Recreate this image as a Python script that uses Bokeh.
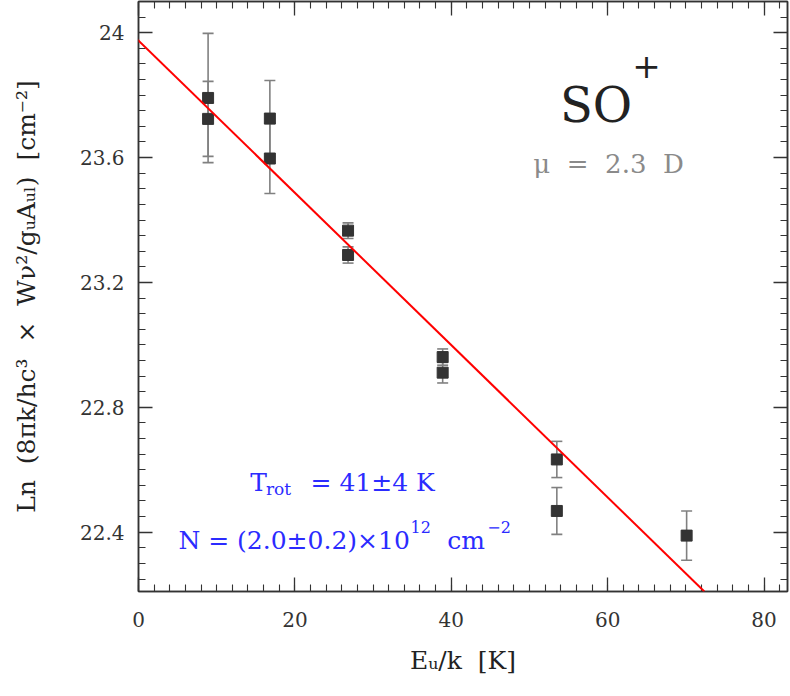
from bokeh.plotting import figure
from bokeh.models import (ColumnDataSource, Whisker, TeeHead, Label, LinearAxis,
                          Range1d, FixedTicker, PrintfTickFormatter,
                          CustomJSTickFormatter, Slope)
from bokeh.embed import file_html
from bokeh.resources import INLINE

# Rotational diagram of SO+: upper-level energy (K), ln of the column
# density ratio and its 1-sigma uncertainty
e_up = [8.9, 8.9, 16.8, 16.8, 26.8, 26.8, 38.9, 38.9, 53.5, 53.5, 70.1]
ln_n = [23.791, 23.724, 23.725, 23.597, 23.366, 23.288,
        22.961, 22.911, 22.633, 22.468, 22.389]
ln_err = [0.207, 0.120, 0.122, 0.112, 0.025, 0.026,
          0.026, 0.033, 0.058, 0.075, 0.079]

# Least-squares fit: slope is -1/T_rot
t_rot = 41.0
fit_intercept = 23.975

x_major = [0, 20, 40, 60, 80]
x_minor = list(range(0, 84, 2))
y_major = [22.4, 22.8, 23.2, 23.6, 24.0]
y_minor = [round(22.2 + 0.05 * i, 2) for i in range(39)]

SERIF = "DejaVu Serif"
AXIS_COL = "#333333"
NB = "\u00a0"

src = ColumnDataSource(data=dict(
    x=e_up, y=ln_n,
    upper=[v + e for v, e in zip(ln_n, ln_err)],
    lower=[v - e for v, e in zip(ln_n, ln_err)],
))

p = figure(width=790, height=696, output_backend="svg", toolbar_location=None,
           x_range=Range1d(0, 83), y_range=Range1d(22.21, 24.10),
           min_border_left=138, min_border_right=3, min_border_top=1,
           min_border_bottom=105)
p.grid.visible = False
p.background_fill_color = "white"
p.border_fill_color = "white"
p.outline_line_color = AXIS_COL
p.outline_line_width = 1.5


def style_axis(ax, ticks, minors, labelled):
    ax.ticker = FixedTicker(ticks=ticks, minor_ticks=minors)
    ax.axis_line_color = AXIS_COL
    ax.axis_line_width = 1.5
    ax.major_tick_line_color = AXIS_COL
    ax.minor_tick_line_color = AXIS_COL
    ax.major_tick_line_width = 1.3
    ax.minor_tick_line_width = 1.1
    ax.major_tick_in = 14
    ax.major_tick_out = 0
    ax.minor_tick_in = 7
    ax.minor_tick_out = 0
    if labelled:
        ax.formatter = PrintfTickFormatter(format="%g")
        ax.major_label_text_font = SERIF
        ax.major_label_text_font_size = "20px"
        ax.major_label_text_color = AXIS_COL
        ax.axis_label_text_font = SERIF
        ax.axis_label_text_font_style = "normal"
        ax.axis_label_text_color = "#222222"
    else:
        ax.formatter = CustomJSTickFormatter(code="return ''")
        ax.major_label_standoff = 0
        ax.major_label_text_font_size = "1px"


xa = p.xaxis[0]
ya = p.yaxis[0]
style_axis(xa, x_major, x_minor, True)
style_axis(ya, y_major, y_minor, True)
xa.major_label_standoff = 20
ya.major_label_standoff = 14
xa.axis_label = "E\u1d64/k" + NB * 2 + "[K]"
xa.axis_label_text_font_size = "25px"
xa.axis_label_standoff = 16
ya.axis_label = ("Ln" + NB * 2 + "(8\u03c0k/hc\u00b3" + NB * 2 + "\u00d7" + NB * 2 +
                 "W\u03bd\u00b2/g\u1d64A\u1d64\u2097)" + NB * 2 + "[cm\u207b\u00b2]")
ya.axis_label_text_font_size = "25px"
ya.axis_label_standoff = 36

top = LinearAxis()
right = LinearAxis()
style_axis(top, x_major, x_minor, False)
style_axis(right, y_major, y_minor, False)
p.add_layout(top, "above")
p.add_layout(right, "right")

# Fitted line
p.add_layout(Slope(gradient=-1.0 / t_rot, y_intercept=fit_intercept,
                   line_color="#ff0000", line_width=2))

# Error bars and points
bar_col = "#808080"
p.add_layout(Whisker(source=src, base="x", upper="upper", lower="lower",
                     dimension="height", line_color=bar_col, line_width=1.6,
                     upper_head=TeeHead(size=11, line_color=bar_col, line_width=1.6),
                     lower_head=TeeHead(size=11, line_color=bar_col, line_width=1.6)))
p.scatter("x", "y", source=src, marker="square", size=11,
          fill_color="#333333", line_color="#333333")


def text(x, y, s, size, color, align="left", baseline="alphabetic"):
    p.add_layout(Label(x=x, y=y, text=s, text_font=SERIF,
                       text_font_size=size, text_color=color,
                       text_align=align, text_baseline=baseline))


# Species name and dipole moment
text(53.9, 23.767, "SO", "48px", "#222222")
text(64.97, 23.895, "+", "34px", "#222222", align="center", baseline="middle")
text(50.5, 23.581, "\u03bc" + NB * 2 + "=" + NB * 2 + "2.3" + NB * 2 + "D", "26px", "#8a8a8a")

# Fit results
BLUE = "#2b2bff"
text(14.3, 22.559, "T", "25px", BLUE)
text(16.3, 22.537, "rot", "17px", BLUE)
text(22.0, 22.559, "=" + NB + "41\u00b14" + NB + "K", "25px", BLUE)
text(5.1, 22.373, "N" + NB + "=" + NB + "(2.0\u00b10.2)\u00d710", "25px", BLUE)
text(34.8, 22.418, "12", "16px", BLUE)
text(39.5, 22.373, "cm", "25px", BLUE)
text(44.6, 22.418, "\u22122", "16px", BLUE)

open("out.html", "w").write(file_html(p, INLINE))
